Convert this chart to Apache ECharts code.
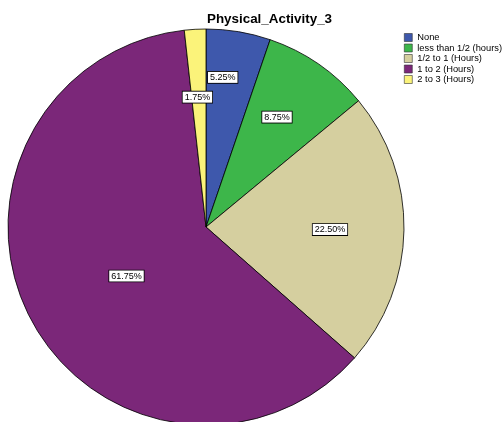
<!DOCTYPE html>
<html><head><meta charset="utf-8">
<script src="https://cdn.jsdelivr.net/npm/echarts@6/dist/echarts.min.js"></script>
<style>html,body{margin:0;padding:0;background:#fff}#c{width:503px;height:422px}</style>
</head><body><div id="c"></div>
<script>
const categories = ['None', 'less than 1/2 (hours)', '1/2 to 1 (Hours)', '1 to 2 (Hours)', '2 to 3 (Hours)'];
const percents = [5.25, 8.75, 22.50, 61.75, 1.75];
const colors = ['#3e58ac', '#3db64a', '#d5cf9f', '#7b2779', '#fbf37a'];
const labelOffsets = [[0, -49], [13, -26], [22, 1], [11, 2], [-3, -28]];
const CX = 206, CY = 227, R = 198;

const chart = echarts.init(document.getElementById('c'));
chart.setOption({
  animation: false,
  title: {
    text: 'Physical_Activity_3', left: 207, top: 13, padding: 0,
    textStyle: { fontFamily: 'Liberation Sans, Arial', fontSize: 13.4, fontWeight: 'bold', color: '#000' }
  },
  legend: {
    orient: 'vertical', left: 404, top: 33, padding: 0, itemWidth: 8, itemHeight: 8, itemGap: 1.5,
    icon: 'rect',
    textStyle: { fontFamily: 'Liberation Sans, Arial', fontSize: 9.3, color: '#000', padding: [0,0,0,0] },
    itemStyle: { borderColor: '#333', borderWidth: 0.6 },
    data: categories
  },
  series: [{
    type: 'pie',
    center: [CX, CY],
    radius: [0, R],
    startAngle: 90,
    clockwise: true,
    avoidLabelOverlap: false,
    data: categories.map((c, i) => ({ name: c, value: percents[i], itemStyle: { color: colors[i] } })),
    itemStyle: { borderColor: '#000', borderWidth: 0.8 },
    label: {
      show: true, position: 'inside',
      formatter: p => p.value.toFixed(2) + '%',
      fontFamily: 'Liberation Sans, Arial', fontSize: 9, color: '#000',
      backgroundColor: '#fff', borderColor: '#000', borderWidth: 0.8, padding: [1, 2, 1, 2]
    },
    labelLine: { show: false },
    labelLayout: function (p) {
      const r = p.labelRect;
      const o = labelOffsets[p.dataIndex];
      return { x: r.x + r.width / 2 + o[0], y: r.y + r.height / 2 + o[1], align: 'center', verticalAlign: 'middle' };
    }
  }]
});
</script></body></html>
